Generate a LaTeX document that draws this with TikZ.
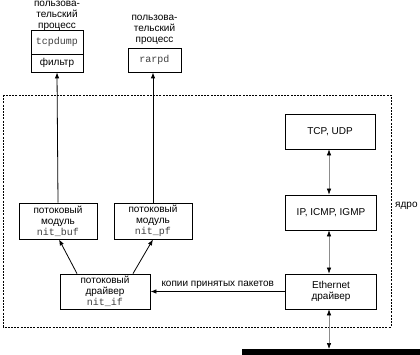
\documentclass[tikz,border=0pt]{standalone}
\usepackage{fontspec}
\setmainfont{Liberation Sans}
\setmonofont{Liberation Mono}
\usetikzlibrary{arrows.meta}
\begin{document}
\begin{tikzpicture}[x=1pt,y=-1pt,
  lbl/.style={font=\fontsize{10}{11}\selectfont, align=center, inner sep=0pt},
  box/.style={draw, line width=0.8pt, fill=white, font=\fontsize{10}{11}\selectfont, align=center, inner sep=0pt},
  arr/.style={line width=0.8pt, -{Latex[length=6pt,width=4.5pt]}},
  darr/.style={line width=0.6pt, draw=black!45, {Latex[length=6pt,width=4.5pt,black]}-{Latex[length=6pt,width=4.5pt,black]}}]
\useasboundingbox (0,0) rectangle (420,355);
\clip (0,0) rectangle (420,355);
% kernel border
\draw[line width=0.8pt, dash pattern=on 2pt off 1.2pt] (3,95) rectangle (391,327);
\node[lbl, anchor=west] (kern) at (395,206) {ядро};
% user processes
\node[lbl] (up1) at (57,16) {пользова-\\тельский\\процесс};
\node[box, minimum width=52pt, minimum height=24pt] (tcpd) at (57,42) {\texttt{\color{black!75}tcpdump}};
\node[box, minimum width=52pt, minimum height=18pt] (filt) at (57,63) {фильтр};
\node[lbl] (up2) at (154.5,30) {пользова-\\тельский\\процесс};
\node[box, minimum width=53pt, minimum height=24pt] (rarpd) at (154.5,60) {\texttt{\color{black!75}rarpd}};
% stream modules
\node[box, minimum width=78pt, minimum height=36pt] (nitbuf) at (58,221) {потоковый\\модуль\\\texttt{\color{black!75}nit\_buf}};
\node[box, minimum width=78pt, minimum height=36pt] (nitpf) at (153,221) {потоковый\\модуль\\\texttt{\color{black!75}nit\_pf}};
\node[box, minimum width=90pt, minimum height=35pt] (nitif) at (105,291.5) {потоковый\\драйвер\\\texttt{\color{black!75}nit\_if}};
% protocol stack
\node[box, minimum width=90pt, minimum height=35pt] (tcpudp) at (330,131.5) {TCP, UDP};
\node[box, minimum width=91pt, minimum height=35pt] (ip) at (331,212.5) {IP, ICMP, IGMP};
\node[box, minimum width=91pt, minimum height=35pt] (eth) at (331,291.5) {Ethernet\\драйвер};
% bus
\fill (242,349) rectangle (425,356);
\coordinate (bustop) at (330,349);
% connectors
\draw[arr] (nitbuf.north) -- (filt.south);
\draw[arr] (nitpf.north) -- (nitpf.north |- rarpd.south);
\draw[arr] ([xshift=-28pt]nitif.north) -- ([xshift=1pt]nitbuf.south);
\draw[arr] ([xshift=28pt]nitif.north) -- (nitpf.south);
\draw[arr] (eth.west) -- node[lbl, above=3pt] (copy) {копии принятых пакетов} (nitif.east);
\draw[darr] (tcpudp.south -| 329,0) -- (ip.north -| 329,0);
\draw[darr] (ip.south -| 329,0) -- (eth.north -| 329,0);
\draw[darr] (eth.south -| 329,0) -- (bustop -| 329,0);
\end{tikzpicture}
\end{document}
